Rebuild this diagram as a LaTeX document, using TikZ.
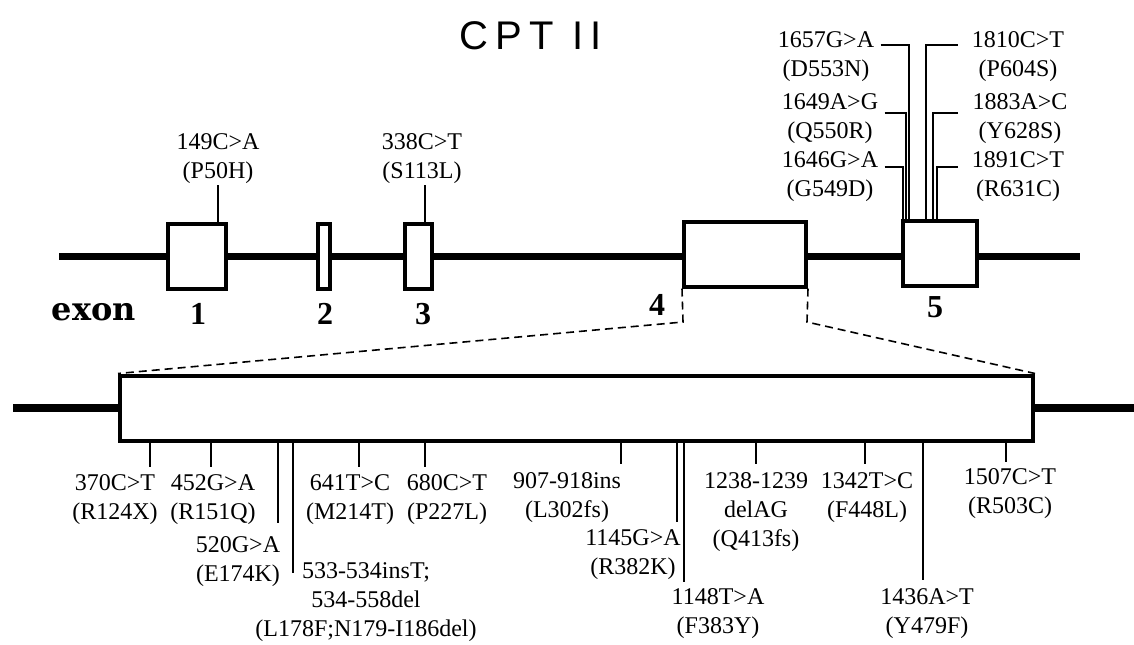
\documentclass[tikz,border=0pt]{standalone}
\usepackage{fontspec}
\setmainfont{Liberation Serif}
\newfontfamily\cptfont[LetterSpace=18]{Liberation Sans}
\newfontfamily\exonwordfont{DejaVu Serif}
\usetikzlibrary{calc}
\tikzset{
  cpt/gene/.style={line width=3.5pt},
  cpt/cds/.style={line width=4pt},
  cpt/exon/.style={
    draw,
    line width=2pt,
    fill=white,
    inner sep=0pt,
    minimum height=32.5pt
  },
  cpt/zoom/.style={line width=0.8pt, dash pattern=on 4pt off 2.5pt},
  cpt/tick/.style={line width=0.7pt},
  cpt/mut/.style={font=\fontsize{12}{14.5}\selectfont, align=center, inner sep=1pt},
  cpt/num/.style={font=\fontsize{16}{18}\selectfont\bfseries, inner sep=0pt},
  cpt/word/.style={font=\exonwordfont\fontsize{16}{18}\selectfont\bfseries, inner sep=0pt},
  cpt/title/.style={font=\cptfont\fontsize{20}{22}\selectfont}
}

\begin{document}
\begin{tikzpicture}[x=0.5pt,y=-0.5pt]
  \useasboundingbox (0,0) rectangle (1134,644);
  \node[cpt/title] (title) at (531,36) {CPT II};

  % gene with exons 1-5
  \coordinate (g0) at (59,256);
  \coordinate (g1) at (1080,256);
  \draw[cpt/gene] (g0) -- (g1);
  \node[cpt/exon, minimum width=29pt] (ex1) at (197,256) {};
  \node[cpt/exon, minimum width=6pt] (ex2) at (324,256) {};
  \node[cpt/exon, minimum width=13.5pt] (ex3) at (418.5,256) {};
  \node[cpt/exon, minimum width=61pt] (ex4) at (745,254) {};
  \node[cpt/exon, minimum width=37pt] (ex5) at (940,253) {};

  \node[cpt/word] (exon) at (94,312) {exon};
  \node[cpt/num] (n1) at (198,314) {1};
  \node[cpt/num] (n2) at (325,314) {2};
  \node[cpt/num] (n3) at (423,314) {3};
  \node[cpt/num] (n4) at (657,305) {4};
  \node[cpt/num] (n5) at (935,307) {5};

  % mutations above the gene
  \node[cpt/mut] (m149) at (218,159) {149C>A\\(P50H)};
  \node[cpt/mut] (m338) at (422,159) {338C>T\\(S113L)};
  \coordinate (t149) at (218,185);
  \coordinate (t338) at (425,185);
  \draw[cpt/tick] (t149) -- (t149 |- ex1.north);
  \draw[cpt/tick] (t338) -- (t338 |- ex3.north);

  \node[cpt/mut, inner xsep=3pt] (m1657) at (826,57) {1657G>A\\(D553N)};
  \node[cpt/mut, inner xsep=3pt] (m1649) at (830,119) {1649A>G\\(Q550R)};
  \node[cpt/mut, inner xsep=3pt] (m1646) at (830,177) {1646G>A\\(G549D)};
  \node[cpt/mut, inner xsep=7pt] (m1810) at (1018,57) {1810C>T\\(P604S)};
  \node[cpt/mut, inner xsep=7pt] (m1883) at (1020,119) {1883A>C\\(Y628S)};
  \node[cpt/mut, inner xsep=7pt] (m1891) at (1018,177) {1891C>T\\(R631C)};
  \coordinate (k1657) at (909,45);
  \coordinate (k1649) at (906,113);
  \coordinate (k1646) at (903,167);
  \coordinate (k1810) at (926,45);
  \coordinate (k1883) at (933,113);
  \coordinate (k1891) at (937,167);
  \draw[cpt/tick] (m1657.east |- k1657) -- (k1657) -- (k1657 |- ex5.north);
  \draw[cpt/tick] (m1649.east |- k1649) -- (k1649) -- (k1649 |- ex5.north);
  \draw[cpt/tick] (m1646.east |- k1646) -- (k1646) -- (k1646 |- ex5.north);
  \draw[cpt/tick] (m1810.west |- k1810) -- (k1810) -- (k1810 |- ex5.north);
  \draw[cpt/tick] (m1883.west |- k1883) -- (k1883) -- (k1883 |- ex5.north);
  \draw[cpt/tick] (m1891.west |- k1891) -- (k1891) -- (k1891 |- ex5.north);

  % exon 4 enlarged
  \coordinate (c0) at (13,408);
  \coordinate (c1) at (1134,408);
  \node[cpt/exon, minimum width=456.5pt, minimum height=32.5pt] (big) at (576.5,408) {};
  \draw[cpt/cds] (c0) -- (big.west);
  \draw[cpt/cds] (big.east) -- (c1);
  \coordinate (z4l) at (683,322);
  \coordinate (z4r) at (807,322);
  \draw[cpt/zoom] (ex4.south west) -- (z4l) -- (big.north west);
  \draw[cpt/zoom] (ex4.south east) -- (z4r) -- (big.north east);

  % mutations in exon 4
  \node[cpt/mut] (m370) at (115,499.5) {370C>T\\(R124X)};
  \node[cpt/mut] (m452) at (213,499.5) {452G>A\\(R151Q)};
  \node[cpt/mut] (m520) at (238,562) {520G>A\\(E174K)};
  \node[cpt/mut] (m533) at (366,602) {533-534insT;\\534-558del\\(L178F;N179-I186del)};
  \node[cpt/mut] (m641) at (350,499.5) {641T>C\\(M214T)};
  \node[cpt/mut] (m680) at (447,499.5) {680C>T\\(P227L)};
  \node[cpt/mut] (m907) at (567,497.5) {907-918ins\\(L302fs)};
  \node[cpt/mut] (m1145) at (633,554.5) {1145G>A\\(R382K)};
  \node[cpt/mut] (m1148) at (718,613.5) {1148T>A\\(F383Y)};
  \node[cpt/mut] (m1238) at (756,512) {1238-1239\\delAG\\(Q413fs)};
  \node[cpt/mut] (m1342) at (867,497.5) {1342T>C\\(F448L)};
  \node[cpt/mut] (m1436) at (927,613.5) {1436A>T\\(Y479F)};
  \node[cpt/mut] (m1507) at (1010,494) {1507C>T\\(R503C)};

  \coordinate (t370) at (150,467);
  \coordinate (t452) at (211,467);
  \coordinate (t520) at (278,523);
  \coordinate (t533) at (293,573);
  \coordinate (t641) at (359,467);
  \coordinate (t680) at (425,467);
  \coordinate (t907) at (621,464);
  \coordinate (t1145) at (677,522);
  \coordinate (t1148) at (684,582);
  \coordinate (t1238) at (756,464);
  \coordinate (t1342) at (865,464);
  \coordinate (t1436) at (923,580);
  \coordinate (t1507) at (1006,462);
  \draw[cpt/tick] (t370 |- big.south) -- (t370);
  \draw[cpt/tick] (t452 |- big.south) -- (t452);
  \draw[cpt/tick] (t520 |- big.south) -- (t520);
  \draw[cpt/tick] (t533 |- big.south) -- (t533);
  \draw[cpt/tick] (t641 |- big.south) -- (t641);
  \draw[cpt/tick] (t680 |- big.south) -- (t680);
  \draw[cpt/tick] (t907 |- big.south) -- (t907);
  \draw[cpt/tick] (t1145 |- big.south) -- (t1145);
  \draw[cpt/tick] (t1148 |- big.south) -- (t1148);
  \draw[cpt/tick] (t1238 |- big.south) -- (t1238);
  \draw[cpt/tick] (t1342 |- big.south) -- (t1342);
  \draw[cpt/tick] (t1436 |- big.south) -- (t1436);
  \draw[cpt/tick] (t1507 |- big.south) -- (t1507);
\end{tikzpicture}
\end{document}
